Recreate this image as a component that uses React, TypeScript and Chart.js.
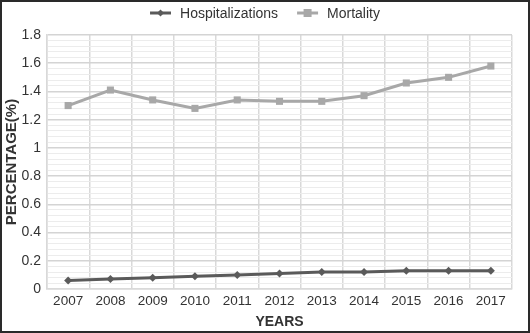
import React, { useEffect, useRef } from "react";
import { Chart, registerables } from "chart.js";

Chart.register(...registerables);

const years = ["2007", "2008", "2009", "2010", "2011", "2012", "2013", "2014", "2015", "2016", "2017"];
const hospitalizations = [0.06, 0.07, 0.08, 0.09, 0.1, 0.11, 0.12, 0.12, 0.13, 0.13, 0.13];
const mortality = [1.3, 1.41, 1.34, 1.28, 1.34, 1.33, 1.33, 1.37, 1.46, 1.5, 1.58];

const HOSP_COLOR = "#5a5a5a";
const MORT_COLOR = "#a8a8a8";
const FONT = "'Liberation Sans', Arial, sans-serif";

const legendPlugin = {
  id: "customLegend",
  afterDraw(chart: any) {
    const ctx = chart.ctx as CanvasRenderingContext2D;
    const ds = chart.data.datasets;
    ctx.save();
    ctx.font = `14px ${FONT}`;
    ctx.textBaseline = "middle";
    const iconW = 21;
    const gapIconText = 9;
    const gapItems = 19;
    const widths = ds.map((d: any) => ctx.measureText(d.label).width);
    const total = ds.length * (iconW + gapIconText) + widths.reduce((a: number, b: number) => a + b, 0) + gapItems * (ds.length - 1);
    let x = chart.width / 2 - total / 2;
    const y = 11;
    ds.forEach((d: any, i: number) => {
      const color = d.borderColor;
      ctx.strokeStyle = color;
      ctx.fillStyle = color;
      ctx.lineWidth = 3;
      ctx.beginPath();
      ctx.moveTo(x, y);
      ctx.lineTo(x + iconW, y);
      ctx.stroke();
      const cx = x + iconW / 2;
      if (d.pointStyle === "rect") {
        ctx.fillRect(cx - 4, y - 4, 8, 8);
      } else {
        ctx.beginPath();
        ctx.moveTo(cx, y - 3.5);
        ctx.lineTo(cx + 3.5, y);
        ctx.lineTo(cx, y + 3.5);
        ctx.lineTo(cx - 3.5, y);
        ctx.closePath();
        ctx.fill();
      }
      x += iconW + gapIconText;
      ctx.fillStyle = "#333";
      ctx.fillText(d.label, x, y + 1);
      x += widths[i] + gapItems;
    });
    ctx.restore();
  },
};

export default function App() {
  const ref = useRef<HTMLCanvasElement>(null);

  useEffect(() => {
    if (!ref.current) return;
    const isMajor = (v: number) => Math.round(v * 100) % 20 === 0;
    const chart = new Chart(ref.current, {
      type: "line",
      data: {
        labels: years,
        datasets: [
          {
            label: "Hospitalizations",
            data: hospitalizations,
            borderColor: HOSP_COLOR,
            backgroundColor: HOSP_COLOR,
            borderWidth: 3,
            pointStyle: "rectRot",
            pointRadius: 4,
            pointBorderWidth: 0,
            tension: 0,
          },
          {
            label: "Mortality",
            data: mortality,
            borderColor: MORT_COLOR,
            backgroundColor: MORT_COLOR,
            borderWidth: 3,
            pointStyle: "rect",
            pointRadius: 5,
            pointBorderWidth: 0,
            tension: 0,
          },
        ],
      },
      plugins: [legendPlugin],
      options: {
        animation: false,
        responsive: false,
        maintainAspectRatio: false,
        layout: { padding: { left: 1, right: 16, top: 33, bottom: 0 } },
        plugins: {
          tooltip: { enabled: false },
          legend: { display: false },
        },
        scales: {
          x: {
            offset: true,
            grid: {
              offset: true,
              color: "#d9d9d9",
              lineWidth: 1.5,
              drawTicks: false,
            },
            border: { color: "#d9d9d9", width: 1.5 },
            ticks: {
              color: "#333",
              font: { family: FONT, size: 13.5 },
              padding: 4,
              maxRotation: 0,
              autoSkip: false,
            },
            title: {
              display: true,
              text: "YEARS",
              color: "#333",
              font: { family: FONT, size: 14, weight: "bold" },
              padding: { top: 1, bottom: 0 },
            },
          },
          y: {
            min: 0,
            max: 1.8,
            afterFit: (axis: any) => {
              axis.width = 44;
            },
            grid: {
              drawTicks: false,
              color: (ctx: any) => (isMajor(ctx.tick.value) ? "#d4d4d4" : "#ececec"),
              lineWidth: (ctx: any) => (isMajor(ctx.tick.value) ? 1.5 : 1),
            },
            border: { color: "#d9d9d9", width: 1.5 },
            ticks: {
              stepSize: 0.04,
              autoSkip: false,
              color: "#333",
              font: { family: FONT, size: 14 },
              padding: 6,
              callback: (v: any) => (isMajor(Number(v)) ? String(+Number(v).toFixed(1)) : ""),
            },
            title: {
              display: true,
              text: "PERCENTAGE(%)",
              color: "#333",
              font: { family: FONT, size: 15, weight: "bold" },
              padding: { top: 0, bottom: 1 },
            },
          },
        },
      },
    });
    return () => chart.destroy();
  }, []);

  return (
    <div
      style={{
        position: "fixed",
        left: 0,
        top: 0,
        width: 530,
        height: 333,
        boxSizing: "border-box",
        border: "2px solid #2a2a2a",
        background: "#fff",
      }}
    >
      <canvas ref={ref} width={526} height={329} style={{ display: "block" }} />
    </div>
  );
}
